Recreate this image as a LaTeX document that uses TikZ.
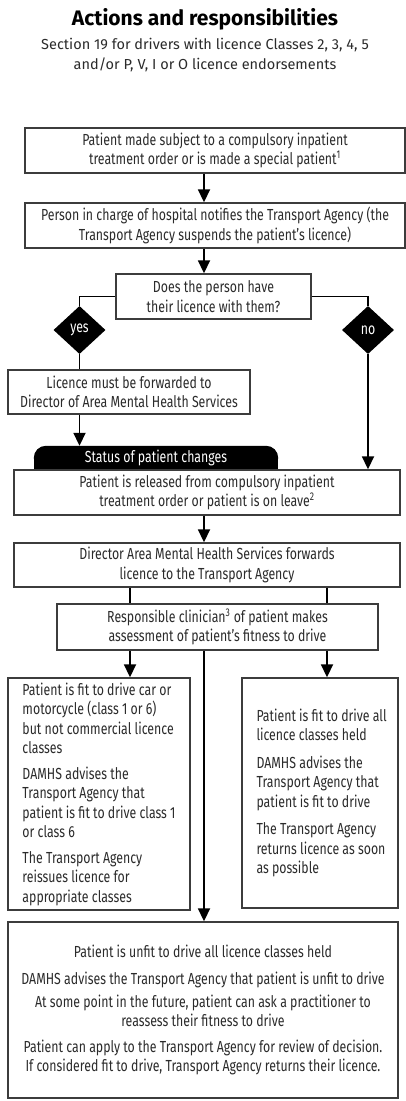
\documentclass[tikz,border=0pt]{standalone}
\usepackage{fontspec}
\setmainfont{Fira Sans}
\newfontfamily\condfont[FakeStretch=0.77]{Fira Sans}
\usetikzlibrary{arrows.meta,shapes.geometric,backgrounds}
\definecolor{txt}{HTML}{2B2B2B}
\definecolor{edge}{HTML}{3C3C3C}
\newcommand\bodyfont{\condfont\fontsize{16}{19.5}\selectfont}
\begin{document}
\begin{tikzpicture}[x=1pt,y=-1pt,
  box/.style={draw=edge, line width=1.4pt, inner sep=0pt, align=center, text=txt, font=\bodyfont},
  ptext/.style={inner sep=0pt, align=left, text=txt, font=\bodyfont},
  arr/.style={line width=1.8pt, -{Triangle[width=12pt,length=13pt]}},
  ln/.style={line width=1.8pt},
  dec/.style={diamond, fill=black, text=white, inner sep=0pt, minimum width=52pt, minimum height=48pt, font=\bodyfont},
  tabtext/.style={inner sep=0pt, text=white, font=\bodyfont}]
\useasboundingbox (0,0) rectangle (406,1101);
\node[font=\fontsize{21}{24}\selectfont\bfseries, text=black] (title) at (205,19) {Actions and responsibilities};
\node[font=\fontsize{14.5}{20}\selectfont, text=txt, align=center] (sub) at (205,55) {Section 19 for drivers with licence Classes 2, 3, 4, 5\\and/or P, V, I or O licence endorsements};
\coordinate (cx) at (204,0);
\coordinate (cl) at (130,0);
\coordinate (cr) at (327,0);
\node[box, minimum width=380pt, minimum height=45pt] (b1) at (215,150.5) {Patient made subject to a compulsory inpatient\\treatment order or is made a special patient\textsuperscript{1}};
\node[box, minimum width=380pt, minimum height=45pt] (b2) at (215,225.5) {Person in charge of hospital notifies the Transport Agency (the\\Transport Agency suspends the patient’s licence)};
\node[box, minimum width=195pt, minimum height=45pt] (b3) at (213.5,296.5) {Does the person have\\their licence with them?};
\node[dec] (yes) at (79.5,330) {yes};
\node[dec] (no) at (368,330) {no};
\node[box, minimum width=242pt, minimum height=44pt] (b4) at (129,392) {Licence must be forwarded to\\Director of Area Mental Health Services};
\node[tabtext, minimum width=244pt, minimum height=24pt] (tab) at (156,458) {Status of patient changes};
\node[box, minimum width=386pt, minimum height=45pt] (b5) at (207,492.5) {Patient is released from compulsory inpatient\\treatment order or patient is on leave\textsuperscript{2}};
\node[box, minimum width=386pt, minimum height=44pt] (b6) at (207,565) {Director Area Mental Health Services forwards\\licence to the Transport Agency};
\node[box, minimum width=321pt, minimum height=46pt] (b7) at (217.5,627) {Responsible clinician\textsuperscript{3} of patient makes\\assessment of patient’s fitness to drive};
\node[box, minimum width=182pt, minimum height=232pt] (fl) at (99,794) {};
\node[ptext, anchor=west] (flt) at ([xshift=15pt]fl.west) {Patient is fit to drive car or\\motorcycle (class 1 or 6)\\but not commercial licence\\classes\\[6pt]DAMHS advises the\\Transport Agency that\\patient is fit to drive class 1\\or class 6\\[6pt]The Transport Agency\\reissues licence for\\appropriate classes};
\node[box, minimum width=156pt, minimum height=230pt] (fr) at (320,793) {};
\node[ptext, anchor=west] (frt) at ([xshift=15pt]fr.west) {Patient is fit to drive all\\licence classes held\\[8pt]DAMHS advises the\\Transport Agency that\\patient is fit to drive\\[8pt]The Transport Agency\\returns licence as soon\\as possible};
\node[box, minimum width=390pt, minimum height=176pt, font=\condfont\fontsize{16}{18.5}\selectfont] (fb) at (203,1010) {Patient is unfit to drive all licence classes held\\[8pt]DAMHS advises the Transport Agency that patient is unfit to drive\\[5pt]At some point in the future, patient can ask a practitioner to\\reassess their fitness to drive\\[8pt]Patient can apply to the Transport Agency for review of decision.\\If considered fit to drive, Transport Agency returns their licence.};
\begin{scope}[on background layer]
\fill[white] (0,0) rectangle (406,1101);
\fill[black, rounded corners=12pt] (tab.south west) rectangle (tab.north east);
\fill[black] (tab.west) rectangle (tab.south east);
\end{scope}
\draw[arr] (b1.south -| cx) -- (b2.north -| cx);
\draw[arr] (b2.south -| cx) -- (b3.north -| cx);
\draw[ln] (b3.west) -| (yes.north);
\draw[ln] (b3.east) -| (no.north);
\draw[ln] (yes.south) -- (b4.north -| yes.south);
\draw[arr] (b4.south -| yes) -- (tab.north -| yes);
\draw[arr] (no.south) -- (b5.north -| no);
\draw[arr] (b5.south -| cx) -- (b6.north -| cx);
\draw[ln] (b6.south -| cl) -- (b7.north -| cl);
\draw[ln] (b6.south -| cr) -- (b7.north -| cr);
\draw[arr] (b7.south -| cl) -- (fl.north -| cl);
\draw[arr] (b7.south -| cr) -- (fr.north -| cr);
\draw[arr] (b7.south -| cx) -- (fb.north -| cx);
\end{tikzpicture}
\end{document}
